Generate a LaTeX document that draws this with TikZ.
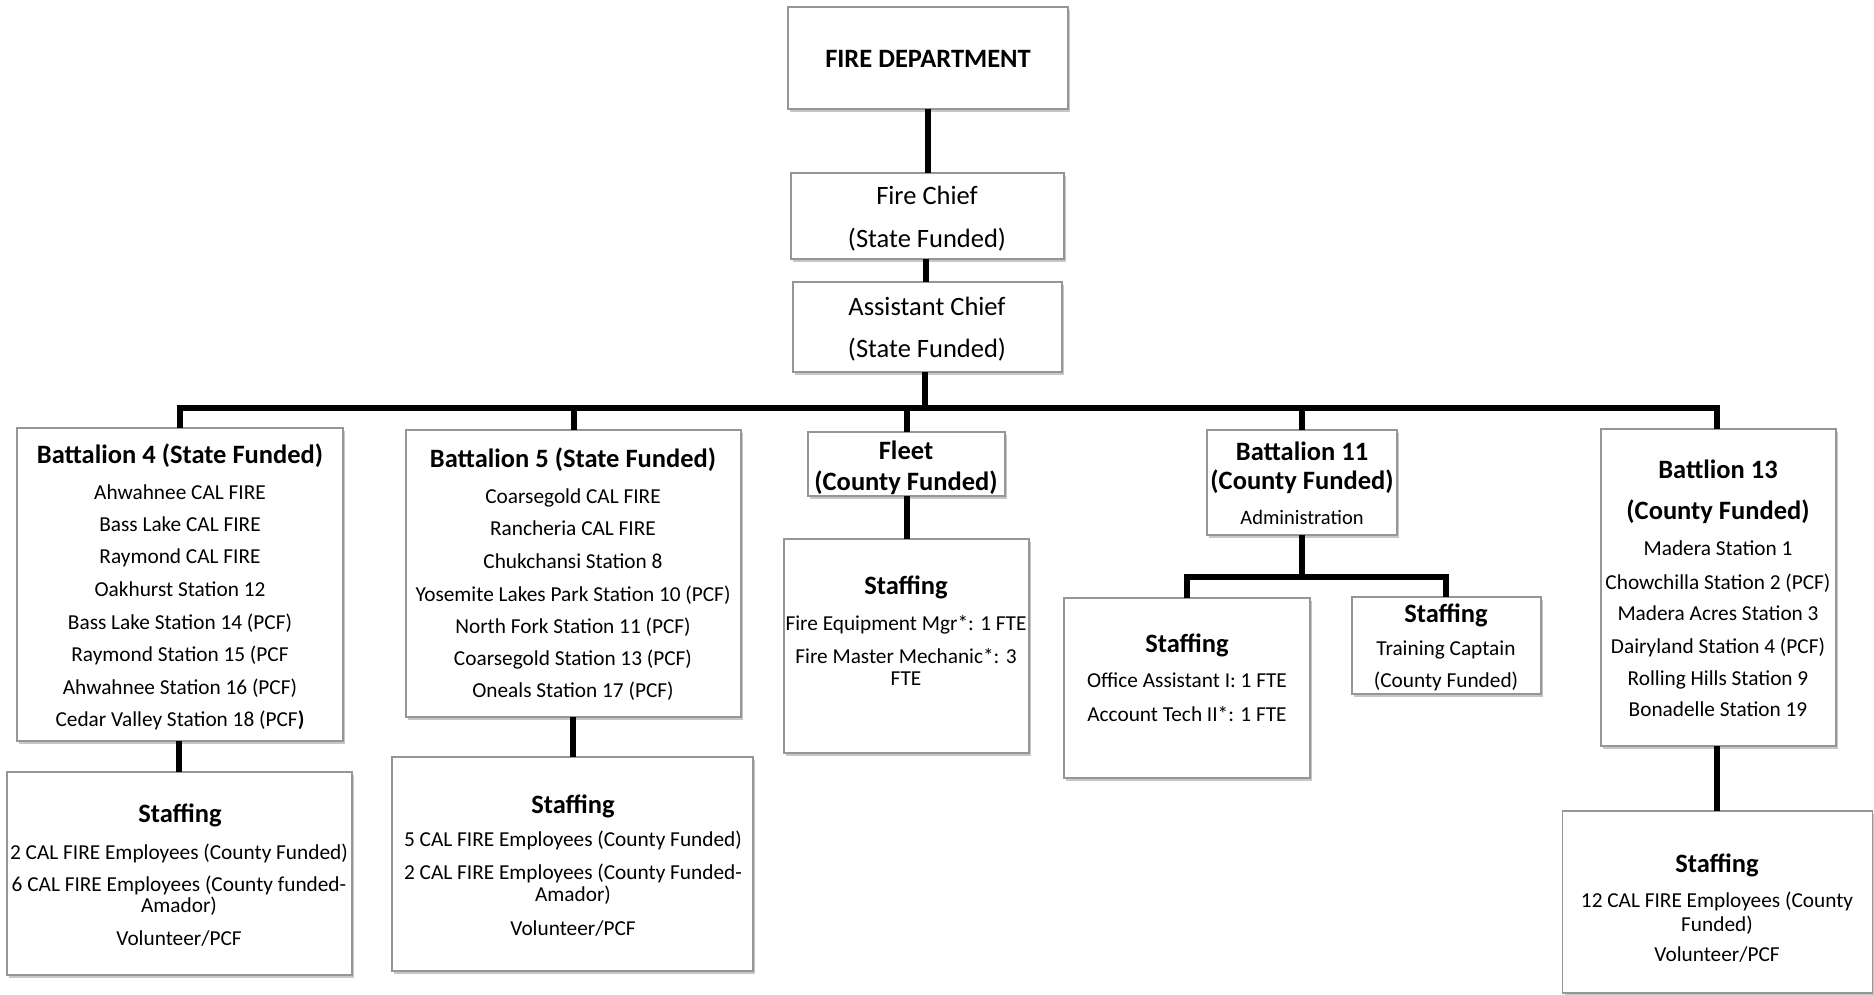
\documentclass[tikz,border=0pt]{standalone}
\usepackage{fontspec}
\setmainfont{Carlito}
\usetikzlibrary{shadows}
\definecolor{boxgray}{RGB}{150,150,150}
\tikzset{
  box/.style={draw=boxgray, line width=1.5pt, fill=white, rectangle, inner sep=0pt, outer sep=0pt,
    drop shadow={shadow xshift=2pt, shadow yshift=-3pt, fill=black, opacity=0.22}},
  link/.style={line width=6pt, draw=black, line join=miter},
  txt/.style={inner sep=0pt, font=\fontsize{21.3}{24}\selectfont, text height=15pt, text depth=4pt, yshift=-2.5pt},
  sml/.style={inner sep=0pt, font=\fontsize{20.5}{23}\selectfont, text height=14.5pt, text depth=4pt, yshift=-2.5pt},
  big/.style={inner sep=0pt, font=\fontsize{26.5}{30}\selectfont, text height=19pt, text depth=5pt, yshift=-3.5pt},
  hdr/.style={inner sep=0pt, font=\fontsize{26.5}{30}\selectfont\bfseries, text height=19pt, text depth=5pt, yshift=-3.5pt},
}
\begin{document}
\begin{tikzpicture}[x=1pt, y=-1pt]
\useasboundingbox (0,0) rectangle (1874,995);

% boxes
\node[box, minimum width=280pt, minimum height=102pt] (fd) at (928,58) {};
\node[box, minimum width=273pt, minimum height=86pt] (chief) at (927.5,216) {};
\node[box, minimum width=269pt, minimum height=90pt] (asst) at (927.5,327) {};
\node[box, minimum width=326pt, minimum height=313pt] (b4) at (180,584.5) {};
\node[box, minimum width=335pt, minimum height=287pt] (b5) at (573.5,573.5) {};
\node[box, minimum width=197pt, minimum height=64pt] (fleet) at (906.5,464) {};
\node[box, minimum width=190pt, minimum height=105pt] (b11) at (1302,482.5) {};
\node[box, minimum width=235pt, minimum height=317pt] (b13) at (1718.5,587.5) {};
\node[box, minimum width=345pt, minimum height=203pt] (s4) at (179.5,873.5) {};
\node[box, minimum width=361pt, minimum height=214pt] (s5) at (572.5,864) {};
\node[box, minimum width=245pt, minimum height=214pt] (sf) at (906.5,646) {};
\node[box, minimum width=246pt, minimum height=180pt] (s11a) at (1187,688) {};
\node[box, minimum width=189pt, minimum height=97pt] (s11b) at (1446.5,645.5) {};
\node[box, minimum width=310pt, minimum height=182pt] (s13) at (1717.5,902) {};

% connectors
\coordinate (bus) at (927,408);
\coordinate (split) at (1302,577);
\draw[link] (fd.south -| 928,0) -- (chief.north -| 928,0);
\draw[link] (chief.south -| 926,0) -- (asst.north -| 926,0);
\draw[link] (asst.south -| 925,0) -- (bus -| 925,0);
\draw[link] (b4.north -| 180,0) |- (bus) -| (b13.north -| 1717,0);
\draw[link] (b5.north) -- (b5.north |- bus);
\draw[link] (fleet.north) -- (fleet.north |- bus);
\draw[link] (b11.north) -- (b11.north |- bus);
\draw[link] (b4.south -| 179,0) -- (s4.north -| 179,0);
\draw[link] (b5.south -| 573,0) -- (s5.north -| 573,0);
\draw[link] (fleet.south -| 907,0) -- (sf.north -| 907,0);
\draw[link] (b13.south -| 1717,0) -- (s13.north -| 1717,0);
\draw[link] (b11.south) -- (split);
\draw[link] (s11a.north) |- (split) -| (s11b.north -| 1446,0);

% texts
\node[hdr] (fdt) at (928,57) {FIRE DEPARTMENT};
\node[big] (ct1) at (927,194) {Fire Chief};
\node[big] (ct2) at (927,237) {(State Funded)};
\node[big] (at1) at (927,305) {Assistant Chief};
\node[big] (at2) at (927,347) {(State Funded)};

\node[hdr] (b4h) at (180,453) {Battalion 4 (State Funded)};
\node[txt] (b4a) at (180,491) {Ahwahnee CAL FIRE};
\node[txt] (b4b) at (180,523) {Bass Lake CAL FIRE};
\node[txt] (b4c) at (180,555) {Raymond CAL FIRE};
\node[txt] (b4d) at (180,588) {Oakhurst Station 12};
\node[txt] (b4e) at (180,621) {Bass Lake Station 14 (PCF)};
\node[txt] (b4f) at (180,653) {Raymond Station 15 (PCF};
\node[txt] (b4g) at (180,686) {Ahwahnee Station 16 (PCF)};
\node[txt] (b4i) at (180,718) {Cedar Valley Station 18 (PCF\textbf{)}};

\node[hdr] (b5h) at (573,457) {Battalion 5 (State Funded)};
\node[txt] (b5a) at (573,495) {Coarsegold CAL FIRE};
\node[txt] (b5b) at (573,527) {Rancheria CAL FIRE};
\node[txt] (b5c) at (573,560) {Chukchansi Station 8};
\node[txt] (b5d) at (573,593) {Yosemite Lakes Park Station 10 (PCF)};
\node[txt] (b5e) at (573,625) {North Fork Station 11 (PCF)};
\node[txt] (b5f) at (573,657) {Coarsegold Station 13 (PCF)};
\node[txt] (b5g) at (573,689) {Oneals Station 17 (PCF)};

\node[hdr] (fl1) at (906,449) {Fleet};
\node[hdr] (fl2) at (906,480) {(County Funded)};
\node[hdr] (sfh) at (906,584) {Staffing};
\node[txt] (sfa) at (906,622) {Fire Equipment Mgr*: 1 FTE};
\node[txt] (sfb) at (906,655) {Fire Master Mechanic*: 3};
\node[txt] (sfc) at (906,677) {FTE};

\node[hdr] (b11h1) at (1302,450) {Battalion 11};
\node[hdr] (b11h2) at (1302,479) {(County Funded)};
\node[sml] (b11a) at (1302,517) {Administration};
\node[hdr] (s11ah) at (1187,642) {Staffing};
\node[txt] (s11aa) at (1187,679) {Office Assistant I: 1 FTE};
\node[txt] (s11ab) at (1187,713) {Account Tech II*: 1 FTE};
\node[hdr] (s11bh) at (1446,612) {Staffing};
\node[txt] (s11ba) at (1446,647) {Training Captain};
\node[txt] (s11bb) at (1446,679) {(County Funded)};

\node[hdr] (b13h1) at (1718,468) {Battlion 13};
\node[hdr] (b13h2) at (1718,509) {(County Funded)};
\node[txt] (b13a) at (1718,547) {Madera Station 1};
\node[txt] (b13b) at (1718,581) {Chowchilla Station 2 (PCF)};
\node[txt] (b13c) at (1718,612) {Madera Acres Station 3};
\node[txt] (b13d) at (1718,645) {Dairyland Station 4 (PCF)};
\node[txt] (b13e) at (1718,677) {Rolling Hills Station 9};
\node[txt] (b13f) at (1718,708) {Bonadelle Station 19};

\node[hdr] (s4h) at (180,812) {Staffing};
\node[txt] (s4a) at (179,851) {2 CAL FIRE Employees (County Funded)};
\node[txt] (s4b) at (179,883) {6 CAL FIRE Employees (County funded-};
\node[txt] (s4c) at (179,904) {Amador)};
\node[txt] (s4d) at (179,937) {Volunteer/PCF};

\node[hdr] (s5h) at (573,803) {Staffing};
\node[txt] (s5a) at (573,838) {5 CAL FIRE Employees (County Funded)};
\node[txt] (s5b) at (573,871) {2 CAL FIRE Employees (County Funded-};
\node[txt] (s5c) at (573,893) {Amador)};
\node[txt] (s5d) at (573,927) {Volunteer/PCF};

\node[hdr] (s13h) at (1717,862) {Staffing};
\node[txt] (s13a) at (1717,899) {12 CAL FIRE Employees (County};
\node[txt] (s13b) at (1717,923) {Funded)};
\node[txt] (s13c) at (1717,953) {Volunteer/PCF};
\end{tikzpicture}
\end{document}
